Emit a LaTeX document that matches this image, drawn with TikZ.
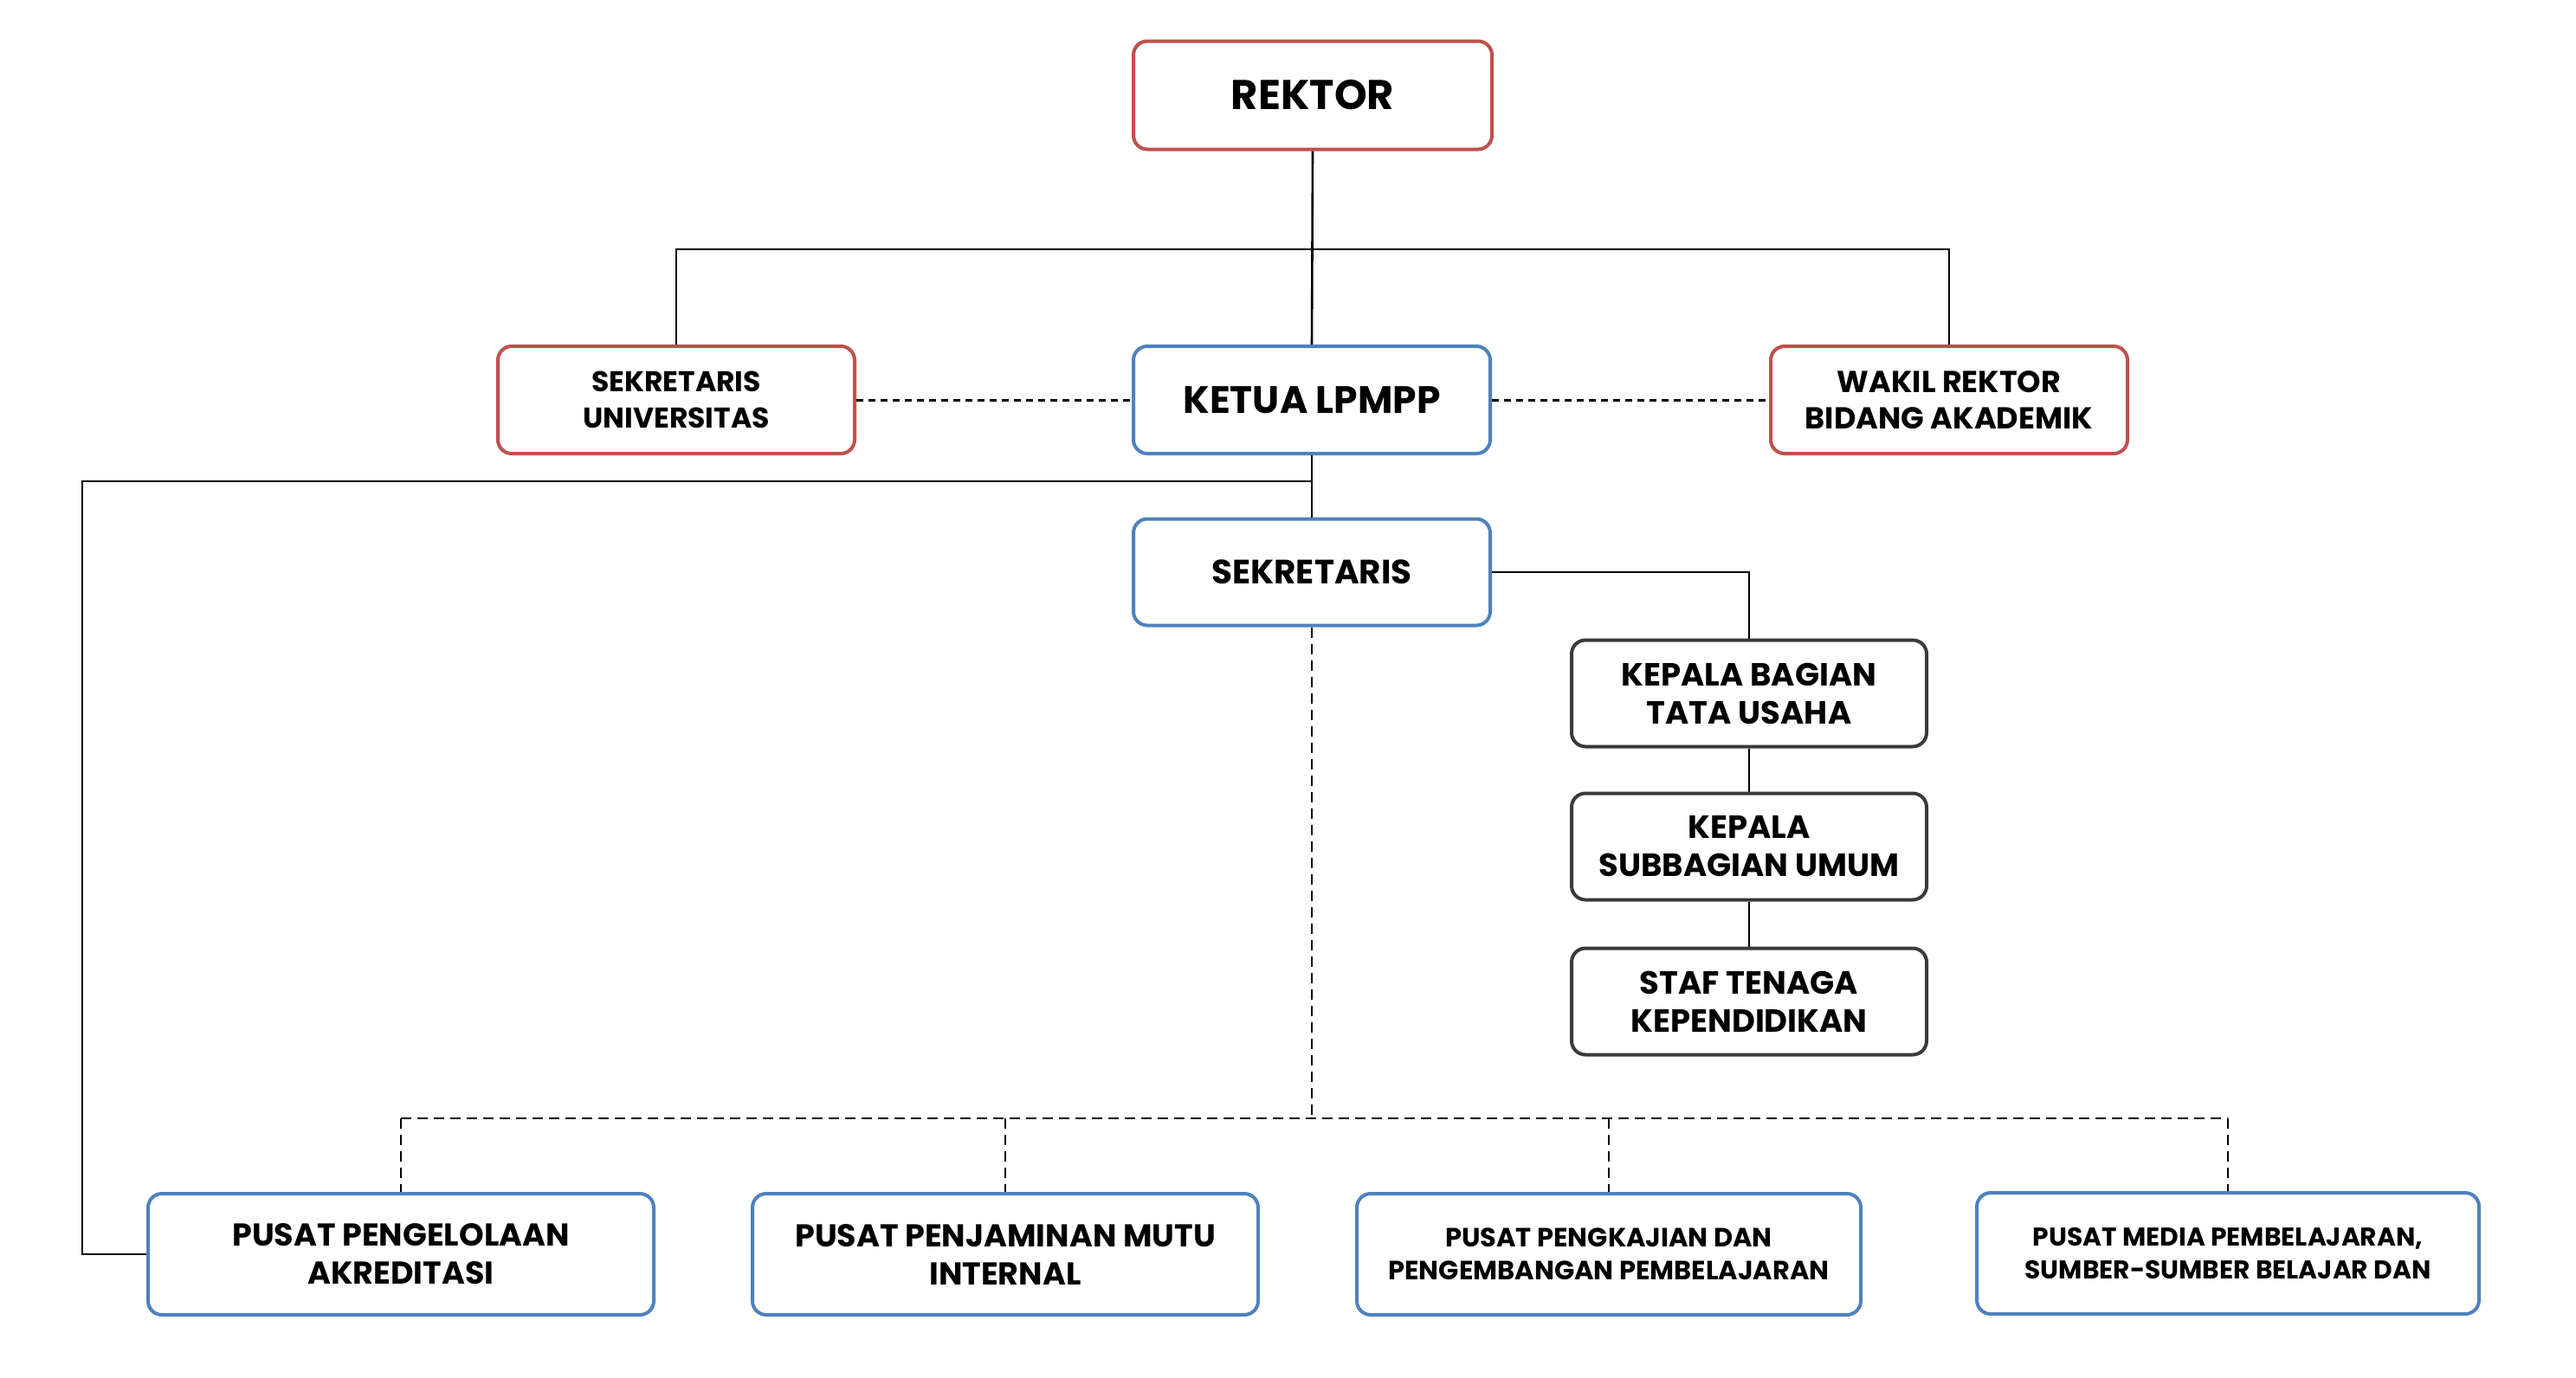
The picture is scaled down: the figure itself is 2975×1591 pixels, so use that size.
\documentclass[tikz,border=0pt]{standalone}
\usepackage{fontspec}
\setmainfont{Poppins}
\definecolor{cred}{HTML}{C0504D}
\definecolor{cblue}{HTML}{4F81BD}
\definecolor{cdark}{HTML}{3A3A3A}
\tikzset{
  box/.style={draw, line width=4pt, rounded corners=16pt, fill=white, align=center, inner sep=0pt, font=\bfseries},
  redbox/.style={box, draw=cred},
  bluebox/.style={box, draw=cblue},
  darkbox/.style={box, draw=cdark},
  conn/.style={line width=2.6pt, black},
  dconnA/.style={line width=3pt, black, dash pattern=on 8pt off 6pt},
  dconnB/.style={line width=2.6pt, black, dash pattern=on 12pt off 7pt},
}
\begin{document}
\begin{tikzpicture}[x=1pt,y=-1pt]
\useasboundingbox (0,0) rectangle (2975,1591);
% nodes
\node[redbox, minimum width=414pt, minimum height=125pt, font=\bfseries\fontsize{48}{56}\selectfont] (rektor) at (1516,110) {REKTOR};
\node[redbox, minimum width=412pt, minimum height=124pt, font=\bfseries\fontsize{33}{42}\selectfont] (sekuniv) at (781,462) {SEKRETARIS\\UNIVERSITAS};
\node[bluebox, minimum width=412pt, minimum height=124pt, font=\bfseries\fontsize{44}{50}\selectfont] (ketua) at (1515,462) {KETUA LPMPP};
\node[redbox, minimum width=412pt, minimum height=124pt, font=\bfseries\fontsize{35}{42}\selectfont] (wakil) at (2251,462) {WAKIL REKTOR\\BIDANG AKADEMIK};
\node[bluebox, minimum width=412pt, minimum height=123pt, font=\bfseries\fontsize{39}{48}\selectfont] (sekr) at (1515,661) {SEKRETARIS};
\node[darkbox, minimum width=410pt, minimum height=123pt, font=\bfseries\fontsize{37}{44}\selectfont] (kabag) at (2020,801) {KEPALA BAGIAN\\TATA USAHA};
\node[darkbox, minimum width=410pt, minimum height=123pt, font=\bfseries\fontsize{37}{44}\selectfont] (kasub) at (2020,978) {KEPALA\\SUBBAGIAN UMUM};
\node[darkbox, minimum width=410pt, minimum height=123pt, font=\bfseries\fontsize{37}{44}\selectfont] (staf) at (2020,1157) {STAF TENAGA\\KEPENDIDIKAN};
\node[bluebox, minimum width=584pt, minimum height=140pt, font=\bfseries\fontsize{36.5}{44}\selectfont] (b1) at (463,1449) {PUSAT PENGELOLAAN\\AKREDITASI};
\node[bluebox, minimum width=584pt, minimum height=140pt, font=\bfseries\fontsize{36.5}{44}\selectfont] (b2) at (1161,1449) {PUSAT PENJAMINAN MUTU\\INTERNAL};
\node[bluebox, minimum width=582pt, minimum height=140pt, font=\bfseries\fontsize{30.5}{38}\selectfont] (b3) at (1858,1449) {PUSAT PENGKAJIAN DAN\\PENGEMBANGAN PEMBELAJARAN};
\node[bluebox, minimum width=580pt, minimum height=140pt, font=\bfseries\fontsize{29.7}{38}\selectfont] (b4) at (2573,1448) {PUSAT MEDIA PEMBELAJARAN,\\SUMBER-SUMBER BELAJAR DAN};
% coordinates
\coordinate (hy) at (0,288);
\coordinate (lx) at (95,556);
\coordinate (bus) at (0,1292);
% connectors
\draw[conn] (rektor.south) -- (ketua.north);
\draw[conn] (sekuniv.north) -- (sekuniv.north |- hy) -- (wakil.north |- hy) -- (wakil.north);
\draw[dconnA] (sekuniv.east) -- (ketua.west);
\draw[dconnA] (ketua.east) -- (wakil.west);
\draw[conn] (ketua.south) -- (sekr.north);
\draw[conn] (ketua.south |- lx) -- (lx) |- (b1.west);
\draw[conn] (sekr.east) -| (kabag.north);
\draw[conn] (kabag.south) -- (kasub.north);
\draw[conn] (kasub.south) -- (staf.north);
\draw[dconnB] (sekr.south) -- (sekr.south |- bus);
\draw[dconnB] (b1.north |- bus) -- (b4.north |- bus);
\draw[dconnB] (b1.north |- bus) -- (b1.north);
\draw[dconnB] (b2.north |- bus) -- (b2.north);
\draw[dconnB] (b3.north |- bus) -- (b3.north);
\draw[dconnB] (b4.north |- bus) -- (b4.north);
\end{tikzpicture}
\end{document}
